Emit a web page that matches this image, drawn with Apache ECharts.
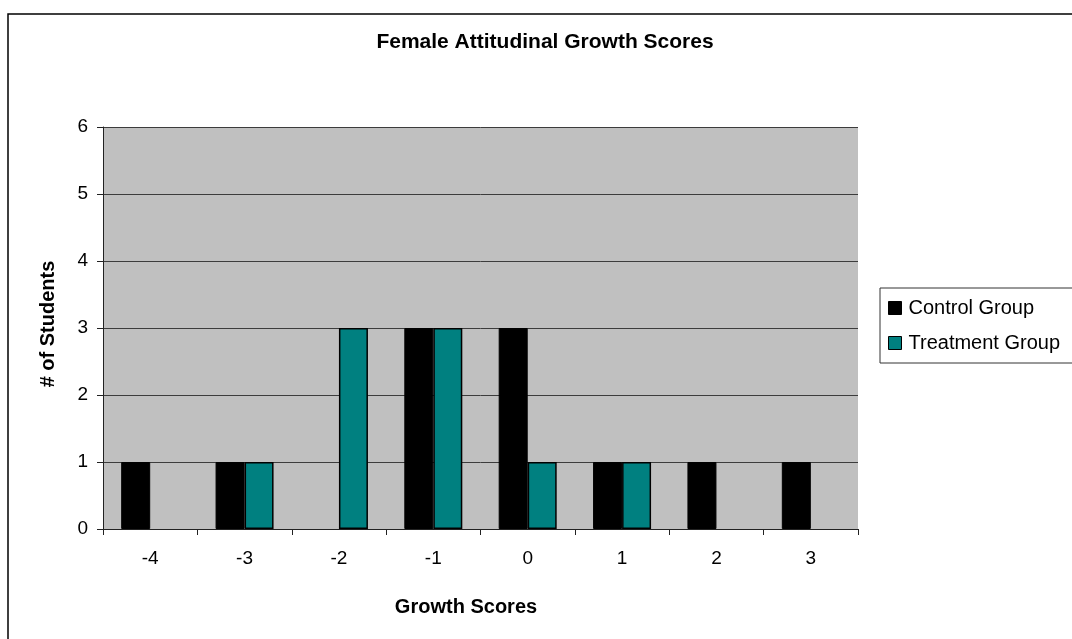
<!DOCTYPE html>
<html>
<head>
<meta charset="utf-8">
<script src="https://cdn.jsdelivr.net/npm/echarts@6/dist/echarts.min.js"></script>
<style>
  html, body { margin: 0; padding: 0; background: #fff; }
  #chart { width: 1072px; height: 639px; }
</style>
</head>
<body>
<div id="chart"></div>
<script>
// Growth score categories and counts of students per group
const scoreLabels = ['-4', '-3', '-2', '-1', '0', '1', '2', '3'];
const controlGroup = [1, 1, 0, 3, 3, 1, 1, 1];
const treatmentGroup = [0, 1, 3, 3, 1, 1, 0, 0];
const countTicks = [0, 1, 2, 3, 4, 5, 6];

const FONT = '"Liberation Sans", Arial, sans-serif';

// Empty bars get no outline so nothing is drawn along the axis
function barItems(values) {
  return values.map(v => (v === 0 ? { value: v, itemStyle: { borderWidth: 0, opacity: 0 } } : v));
}

const chart = echarts.init(document.getElementById('chart'), null, { renderer: 'canvas' });

chart.setOption({
  backgroundColor: '#ffffff',
  animation: false,
  textStyle: { fontFamily: FONT },
  grid: { left: 103, top: 127, width: 755, height: 402, show: true, backgroundColor: '#c0c0c0', borderWidth: 0 },
  legend: {
    orient: 'vertical',
    left: 880,
    top: 288,
    data: ['Control Group', 'Treatment Group'],
    icon: 'rect',
    itemWidth: 13,
    itemHeight: 13,
    itemGap: 15,
    padding: [10, 60, 10, 8],
    borderColor: '#333',
    borderWidth: 1,
    backgroundColor: '#fff',
    textStyle: { fontFamily: FONT, fontSize: 20, color: '#000', lineHeight: 20, padding: [0, 0, 0, 2] },
    itemStyle: { borderColor: '#000', borderWidth: 1 }
  },
  xAxis: {
    type: 'category',
    data: scoreLabels,
    boundaryGap: true,
    axisLine: { lineStyle: { color: '#222', width: 1 } },
    axisTick: { show: true, length: 6, inside: false, lineStyle: { color: '#222' } },
    axisLabel: { fontFamily: FONT, fontSize: 19, color: '#000', margin: 20 },
    splitLine: { show: false }
  },
  yAxis: {
    type: 'value',
    min: countTicks[0],
    max: countTicks[countTicks.length - 1],
    interval: 1,
    axisLine: { show: true, lineStyle: { color: '#222', width: 1 } },
    axisTick: { show: true, length: 6, lineStyle: { color: '#222' } },
    axisLabel: { fontFamily: FONT, fontSize: 19, color: '#000', margin: 15 },
    splitLine: { show: true, lineStyle: { color: '#3c3c3c', width: 1 } }
  },
  series: [
    {
      name: 'Control Group',
      type: 'bar',
      data: barItems(controlGroup),
      barWidth: 29,
      barGap: '0%',
      itemStyle: { color: '#000000', borderColor: '#000', borderWidth: 1 }
    },
    {
      name: 'Treatment Group',
      type: 'bar',
      data: barItems(treatmentGroup),
      barWidth: 29,
      barGap: '0%',
      itemStyle: { color: '#008080', borderColor: '#000', borderWidth: 1.5 }
    }
  ],
  graphic: [
    {
      type: 'rect',
      silent: true,
      shape: { x: 8, y: 14, width: 1200, height: 800 },
      style: { fill: 'none', stroke: '#000', lineWidth: 1.5 },
      z: 100
    },
    {
      type: 'text',
      x: 545, y: 42,
      style: {
        text: 'Female Attitudinal Growth Scores',
        font: 'bold 21px ' + FONT,
        fill: '#000',
        align: 'center',
        verticalAlign: 'middle'
      }
    },
    {
      type: 'text',
      x: 466, y: 607,
      style: {
        text: 'Growth Scores',
        font: 'bold 20px ' + FONT,
        fill: '#000',
        align: 'center',
        verticalAlign: 'middle'
      }
    },
    {
      type: 'text',
      x: 48, y: 324,
      rotation: Math.PI / 2,
      style: {
        text: '# of Students',
        font: 'bold 20px ' + FONT,
        fill: '#000',
        align: 'center',
        verticalAlign: 'middle'
      }
    }
  ]
});
</script>
</body>
</html>
